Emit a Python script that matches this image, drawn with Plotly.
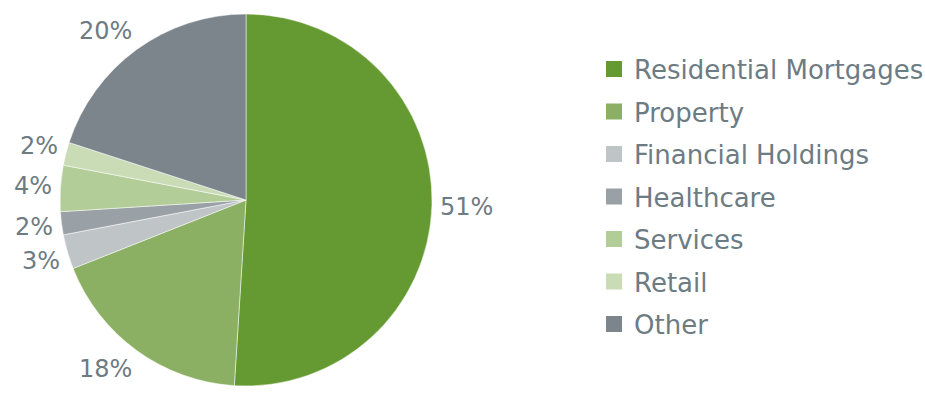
import math
import plotly.graph_objects as go

# Loan book composition by sector
categories = ["Residential Mortgages", "Property", "Financial Holdings",
              "Healthcare", "Services", "Retail", "Other"]
shares = [51, 18, 3, 2, 4, 2, 20]
colors = ["#659a32", "#8bb063", "#bfc4c7", "#9aa1a6", "#b2cd98", "#c9dcb6", "#7b858b"]

W, H = 925, 393
cx, cy, r = 246, 200, 186          # pie centre and radius in pixels
TEXT = "#6d7b83"
FONT = "DejaVu Sans"
LABEL_SIZE = 24
LABEL_PAD = 8
LABEL_HALF_H = 12


def clamp(v):
    return max(-1.0, min(1.0, v))


fig = go.Figure()

fig.add_trace(go.Pie(
    labels=categories,
    values=shares,
    sort=False,
    direction="clockwise",
    rotation=0,
    marker=dict(colors=colors, line=dict(color="white", width=0.5)),
    textinfo="none",
    domain=dict(x=[(cx - r) / W, (cx + r) / W], y=[(H - cy - r) / H, (H - cy + r) / H]),
    hoverinfo="label+value",
    showlegend=False,
))

# Percentage labels: the text box sits just outside the rim at each slice's mid-angle
total = sum(shares)
cum = 0
for v in shares:
    theta = math.radians(360 * (cum + v / 2) / total)
    cum += v
    txt = f"{v}%"
    half_w = (0.636 * (len(txt) - 1) + 0.95) * LABEL_SIZE / 2
    dx, dy = math.sin(theta), -math.cos(theta)
    px = cx + dx * (r + LABEL_PAD) + half_w * clamp(2 * dx)
    py = cy + dy * (r + LABEL_PAD) + LABEL_HALF_H * clamp(2 * dy)
    fig.add_annotation(
        x=px / W, y=1 - py / H, xref="paper", yref="paper",
        text=txt, showarrow=False, xanchor="center", yanchor="middle",
        font=dict(family=FONT, size=LABEL_SIZE, color=TEXT),
    )

# Legend entries
for name, col in zip(categories, colors):
    fig.add_trace(go.Scatter(
        x=[None], y=[None], mode="markers", name=name, legendgroup=name,
        marker=dict(symbol="square", size=16, color=col, line=dict(width=0)),
        hoverinfo="skip",
    ))

fig.update_layout(
    width=W, height=H,
    margin=dict(l=0, r=0, t=0, b=0, autoexpand=False),
    paper_bgcolor="white",
    plot_bgcolor="white",
    font=dict(family=FONT, color=TEXT),
    xaxis=dict(visible=False),
    yaxis=dict(visible=False),
    legend=dict(
        x=594 / W, y=1 - 45.7 / H, xanchor="left", yanchor="top",
        font=dict(family=FONT, size=26, color=TEXT),
        itemsizing="trace",
        tracegroupgap=5.7,
        bgcolor="rgba(0,0,0,0)",
    ),
    showlegend=True,
)

fig.write_html("out.html")
